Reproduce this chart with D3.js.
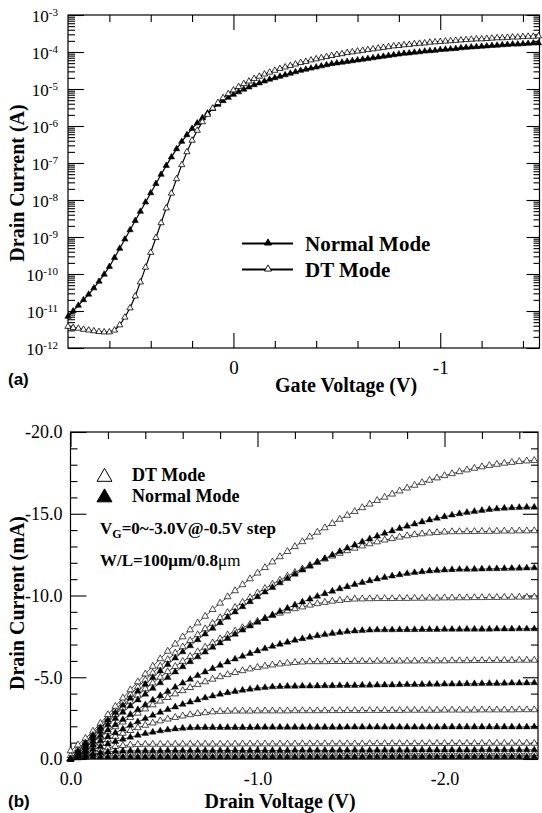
<!DOCTYPE html>
<html><head><meta charset="utf-8">
<script src="https://cdn.jsdelivr.net/npm/d3@7"></script>
<style>
body{margin:0;background:#fff}
svg{display:block}
text{font-family:"Liberation Serif","Times New Roman",serif;fill:#000}
</style>
</head><body>
<svg id="chart" width="542" height="813"></svg>
<script>
// ---------------- (a) transfer curves ----------------
const gateVoltage = [0.8,0.775,0.75,0.725,0.7,0.675,0.65,0.625,0.6,0.575,0.55,0.525,0.5,0.475,0.45,0.425,0.4,0.375,0.35,0.325,0.3,0.275,0.25,0.225,0.2,0.175,0.15,0.125,0.1,0.075,0.05,0.025,0,-0.025,-0.05,-0.075,-0.1,-0.125,-0.15,-0.175,-0.2,-0.225,-0.25,-0.275,-0.3,-0.325,-0.35,-0.375,-0.4,-0.425,-0.45,-0.475,-0.5,-0.525,-0.55,-0.575,-0.6,-0.625,-0.65,-0.675,-0.7,-0.725,-0.75,-0.775,-0.8,-0.825,-0.85,-0.875,-0.9,-0.925,-0.95,-0.975,-1,-1.025,-1.05,-1.075,-1.1,-1.125,-1.15,-1.175,-1.2,-1.225,-1.25,-1.275,-1.3,-1.325,-1.35,-1.375,-1.4,-1.425,-1.45,-1.475];
// log10 of drain current (A)
const normalLogId = [-11.15,-11.00,-10.85,-10.70,-10.55,-10.38,-10.20,-10.01,-9.80,-9.56,-9.31,-9.06,-8.81,-8.56,-8.31,-8.06,-7.81,-7.56,-7.31,-7.07,-6.84,-6.62,-6.42,-6.24,-6.07,-5.92,-5.78,-5.65,-5.53,-5.42,-5.32,-5.23,-5.15,-5.08,-5.01,-4.95,-4.89,-4.84,-4.79,-4.74,-4.70,-4.66,-4.62,-4.58,-4.54,-4.50,-4.47,-4.44,-4.41,-4.38,-4.35,-4.32,-4.30,-4.28,-4.26,-4.24,-4.22,-4.20,-4.18,-4.16,-4.14,-4.12,-4.10,-4.08,-4.06,-4.04,-4.03,-4.01,-4.00,-3.98,-3.97,-3.96,-3.94,-3.93,-3.92,-3.91,-3.89,-3.88,-3.87,-3.86,-3.85,-3.84,-3.83,-3.82,-3.81,-3.80,-3.79,-3.79,-3.78,-3.77,-3.76,-3.76];
const dtLogId = [-11.42,-11.45,-11.47,-11.50,-11.52,-11.54,-11.56,-11.57,-11.57,-11.52,-11.38,-11.17,-10.92,-10.60,-10.22,-9.82,-9.42,-9.02,-8.62,-8.22,-7.82,-7.43,-7.05,-6.70,-6.39,-6.12,-5.89,-5.69,-5.52,-5.37,-5.24,-5.13,-5.03,-4.94,-4.86,-4.79,-4.72,-4.66,-4.60,-4.55,-4.50,-4.45,-4.41,-4.37,-4.33,-4.29,-4.26,-4.22,-4.19,-4.16,-4.13,-4.10,-4.07,-4.05,-4.02,-4.00,-3.98,-3.96,-3.94,-3.92,-3.90,-3.88,-3.86,-3.84,-3.83,-3.81,-3.80,-3.78,-3.77,-3.76,-3.74,-3.73,-3.72,-3.71,-3.70,-3.69,-3.68,-3.67,-3.66,-3.65,-3.65,-3.64,-3.63,-3.62,-3.62,-3.61,-3.60,-3.60,-3.59,-3.58,-3.58,-3.57];
const aXMajorTicks = [0, -1];
const aXMinorTicks = [0.6, 0.4, 0.2, -0.2, -0.4, -0.6, -0.8, -1.2, -1.4];
const aYDecades = [-12,-11,-10,-9,-8,-7,-6,-5,-4,-3];
const aLegend = ["Normal Mode", "DT Mode"];

// ---------------- (b) output curves ----------------
const drainVoltage = [0,-0.04,-0.08,-0.12,-0.16,-0.2,-0.24,-0.28,-0.32,-0.36,-0.4,-0.44,-0.48,-0.52,-0.56,-0.6,-0.64,-0.68,-0.72,-0.76,-0.8,-0.84,-0.88,-0.92,-0.96,-1,-1.04,-1.08,-1.12,-1.16,-1.2,-1.24,-1.28,-1.32,-1.36,-1.4,-1.44,-1.48,-1.52,-1.56,-1.6,-1.64,-1.68,-1.72,-1.76,-1.8,-1.84,-1.88,-1.92,-1.96,-2,-2.04,-2.08,-2.12,-2.16,-2.2,-2.24,-2.28,-2.32,-2.36,-2.4,-2.44,-2.48];
// drain current magnitude (mA); plotted as negative values
const dtVg30 = [0.50,0.86,1.26,1.70,2.18,2.71,3.22,3.73,4.23,4.72,5.20,5.67,6.13,6.59,7.03,7.47,7.90,8.32,8.73,9.14,9.53,9.92,10.29,10.66,11.02,11.37,11.71,12.05,12.37,12.69,12.99,13.29,13.58,13.87,14.14,14.40,14.66,14.90,15.14,15.37,15.59,15.81,16.01,16.20,16.39,16.57,16.74,16.90,17.05,17.19,17.33,17.45,17.57,17.68,17.78,17.87,17.95,18.02,18.09,18.14,18.19,18.23,18.26];
const nmVg30 = [0,0.49,0.98,1.45,1.92,2.38,2.84,3.28,3.72,4.15,4.57,4.98,5.38,5.78,6.17,6.55,6.92,7.29,7.64,7.99,8.33,8.67,8.99,9.31,9.62,9.92,10.21,10.49,10.77,11.04,11.30,11.55,11.79,12.03,12.26,12.48,12.69,12.90,13.09,13.28,13.46,13.63,13.80,13.95,14.10,14.24,14.37,14.50,14.62,14.72,14.82,14.92,15.00,15.08,15.14,15.20,15.26,15.30,15.34,15.36,15.38,15.40,15.40];
const dtVg25 = [0.20,0.63,1.05,1.56,2.06,2.55,3.02,3.49,3.95,4.40,4.83,5.26,5.68,6.08,6.48,6.86,7.24,7.60,7.96,8.30,8.64,8.96,9.27,9.58,9.87,10.15,10.43,10.69,10.94,11.18,11.41,11.63,11.84,12.04,12.23,12.41,12.58,12.74,12.89,13.03,13.16,13.28,13.39,13.48,13.57,13.65,13.72,13.77,13.82,13.85,13.88,13.90,13.90,13.91,13.91,13.92,13.92,13.93,13.94,13.94,13.95,13.95,13.96];
const nmVg25 = [0,0.43,0.86,1.28,1.69,2.09,2.48,2.86,3.24,3.61,3.96,4.32,4.66,4.99,5.32,5.64,5.95,6.25,6.54,6.83,7.10,7.37,7.63,7.88,8.13,8.36,8.59,8.81,9.02,9.22,9.42,9.60,9.78,9.95,10.11,10.26,10.41,10.54,10.67,10.79,10.90,11.01,11.10,11.19,11.27,11.34,11.40,11.45,11.50,11.53,11.56,11.58,11.60,11.60,11.61,11.62,11.63,11.64,11.65,11.66,11.67,11.68,11.69];
const dtVg20 = [0,0.48,0.96,1.42,1.86,2.30,2.72,3.13,3.53,3.91,4.29,4.65,5.00,5.34,5.66,5.97,6.27,6.56,6.84,7.10,7.35,7.59,7.82,8.03,8.23,8.42,8.60,8.77,8.92,9.06,9.19,9.30,9.41,9.50,9.58,9.65,9.70,9.75,9.78,9.79,9.80,9.81,9.81,9.81,9.82,9.82,9.83,9.83,9.84,9.84,9.85,9.85,9.86,9.86,9.87,9.87,9.88,9.88,9.89,9.89,9.90,9.90,9.91];
const nmVg20 = [0,0.37,0.73,1.09,1.43,1.77,2.10,2.41,2.72,3.02,3.31,3.60,3.87,4.13,4.39,4.64,4.87,5.10,5.32,5.53,5.73,5.93,6.11,6.28,6.45,6.61,6.75,6.89,7.02,7.14,7.26,7.36,7.45,7.54,7.61,7.68,7.74,7.79,7.83,7.86,7.88,7.90,7.90,7.90,7.91,7.91,7.91,7.92,7.92,7.92,7.93,7.93,7.93,7.94,7.94,7.94,7.94,7.95,7.95,7.95,7.96,7.96,7.96];
const dtVg15 = [0,0.36,0.70,1.03,1.36,1.67,1.97,2.26,2.54,2.80,3.06,3.31,3.54,3.76,3.98,4.18,4.37,4.55,4.72,4.88,5.03,5.16,5.29,5.40,5.51,5.60,5.68,5.75,5.81,5.86,5.90,5.93,5.95,5.95,5.95,5.96,5.96,5.96,5.97,5.97,5.97,5.98,5.98,5.98,5.99,5.99,5.99,6.00,6.00,6.00,6.00,6.01,6.01,6.01,6.02,6.02,6.02,6.03,6.03,6.03,6.04,6.04,6.04];
const nmVg15 = [0,0.29,0.57,0.85,1.11,1.36,1.60,1.83,2.06,2.27,2.47,2.67,2.85,3.02,3.18,3.34,3.48,3.61,3.74,3.85,3.96,4.05,4.13,4.21,4.27,4.33,4.37,4.41,4.43,4.45,4.45,4.46,4.46,4.47,4.48,4.48,4.49,4.50,4.50,4.51,4.51,4.52,4.53,4.53,4.54,4.55,4.55,4.56,4.57,4.57,4.58,4.58,4.59,4.60,4.60,4.61,4.62,4.62,4.63,4.64,4.64,4.65,4.66];
const dtVg10 = [0,0.26,0.51,0.75,0.97,1.18,1.38,1.57,1.74,1.91,2.06,2.20,2.33,2.44,2.54,2.63,2.71,2.78,2.83,2.88,2.91,2.92,2.93,2.93,2.93,2.94,2.94,2.94,2.94,2.94,2.95,2.95,2.95,2.95,2.95,2.96,2.96,2.96,2.96,2.96,2.97,2.97,2.97,2.97,2.97,2.98,2.98,2.98,2.98,2.98,2.99,2.99,2.99,2.99,2.99,3.00,3.00,3.00,3.00,3.00,3.01,3.01,3.01];
const nmVg10 = [0,0.21,0.41,0.59,0.76,0.92,1.07,1.21,1.33,1.45,1.55,1.64,1.72,1.78,1.84,1.88,1.91,1.92,1.93,1.93,1.93,1.93,1.93,1.93,1.93,1.94,1.94,1.94,1.94,1.94,1.94,1.94,1.94,1.94,1.94,1.94,1.94,1.95,1.95,1.95,1.95,1.95,1.95,1.95,1.95,1.95,1.95,1.95,1.95,1.95,1.96,1.96,1.96,1.96,1.96,1.96,1.96,1.96,1.96,1.96,1.96,1.96,1.97];
const dtVg05 = [0,0.17,0.32,0.46,0.58,0.68,0.76,0.82,0.86,0.89,0.90,0.90,0.90,0.90,0.90,0.91,0.91,0.91,0.91,0.91,0.91,0.91,0.91,0.92,0.92,0.92,0.92,0.92,0.92,0.92,0.92,0.93,0.93,0.93,0.93,0.93,0.93,0.93,0.93,0.93,0.94,0.94,0.94,0.94,0.94,0.94,0.94,0.94,0.95,0.95,0.95,0.95,0.95,0.95,0.95,0.95,0.96,0.96,0.96,0.96,0.96,0.96,0.96];
const nmVg05 = [0,0.12,0.22,0.31,0.38,0.43,0.47,0.49,0.50,0.50,0.50,0.50,0.50,0.51,0.51,0.51,0.51,0.51,0.51,0.51,0.51,0.52,0.52,0.52,0.52,0.52,0.52,0.52,0.52,0.52,0.53,0.53,0.53,0.53,0.53,0.53,0.53,0.53,0.54,0.54,0.54,0.54,0.54,0.54,0.54,0.54,0.55,0.55,0.55,0.55,0.55,0.55,0.55,0.55,0.55,0.56,0.56,0.56,0.56,0.56,0.56,0.56,0.56];
const dtVg00 = [0,0.12,0.20,0.26,0.30,0.31,0.31,0.31,0.31,0.31,0.31,0.31,0.31,0.31,0.31,0.31,0.31,0.31,0.31,0.31,0.31,0.31,0.31,0.31,0.31,0.31,0.31,0.31,0.31,0.31,0.31,0.31,0.31,0.31,0.31,0.31,0.32,0.32,0.32,0.32,0.32,0.32,0.32,0.32,0.32,0.32,0.32,0.32,0.32,0.32,0.32,0.32,0.32,0.32,0.32,0.32,0.32,0.32,0.32,0.32,0.32,0.32,0.32];
const nmVg00 = [0,0.06,0.10,0.12,0.12,0.12,0.12,0.12,0.12,0.12,0.12,0.12,0.12,0.12,0.12,0.12,0.12,0.12,0.12,0.12,0.12,0.12,0.12,0.12,0.12,0.12,0.12,0.12,0.12,0.12,0.12,0.12,0.12,0.12,0.12,0.12,0.12,0.12,0.12,0.12,0.13,0.13,0.13,0.13,0.13,0.13,0.13,0.13,0.13,0.13,0.13,0.13,0.13,0.13,0.13,0.13,0.13,0.13,0.13,0.13,0.13,0.13,0.13];
const dtCurves = [dtVg00, dtVg05, dtVg10, dtVg15, dtVg20, dtVg25, dtVg30];
const normalCurves = [nmVg00, nmVg05, nmVg10, nmVg15, nmVg20, nmVg25, nmVg30];
const bXMajorTicks = [0, -1, -2];
const bXMinorTicks = [-0.2,-0.4,-0.6,-0.8,-1.2,-1.4,-1.6,-1.8,-2.2,-2.4];
const bYMajorTicks = [0, -5, -10, -15, -20];
const bYMinorTicks = [-1,-2,-3,-4,-6,-7,-8,-9,-11,-12,-13,-14,-16,-17,-18,-19];
const bLegend = ["DT Mode", "Normal Mode"];

// ================= drawing =================
const svg = d3.select("#chart");
const tri = d3.symbol().type(d3.symbolTriangle);

function styleAxis(g, fontSize) {
  g.select(".domain").remove();
  g.selectAll(".tick line").attr("stroke", "#000").attr("stroke-width", 1.1);
  g.attr("font-family", null).attr("font-size", null);
  g.selectAll("text").style("font-size", fontSize + "px");
  return g;
}
function frame(x0, y0, x1, y1) {
  svg.append("rect").attr("x", x0).attr("y", y0).attr("width", x1 - x0).attr("height", y1 - y0)
    .attr("fill", "none").attr("stroke", "#000").attr("stroke-width", 1.2);
}

// ----- panel (a) -----
const aL = 68, aR = 539.5, aT = 15, aB = 348;
const xA = d3.scaleLinear().domain([0.8, -1.48]).range([aL, aR]);
const yA = d3.scaleLog().domain([1e-12, 1e-3]).range([aB, aT]);
const aMinorY = [];
aYDecades.slice(0, -1).forEach(e => { for (let m = 2; m <= 9; m++) aMinorY.push(m * Math.pow(10, e)); });
const aMajorY = aYDecades.map(e => Math.pow(10, e));

styleAxis(svg.append("g").attr("transform", `translate(0,${aB})`)
  .call(d3.axisBottom(xA).tickValues(aXMajorTicks).tickSizeInner(-15).tickSizeOuter(0).tickPadding(13).tickFormat(d => String(d))), 19);
styleAxis(svg.append("g").attr("transform", `translate(0,${aB})`)
  .call(d3.axisBottom(xA).tickValues(aXMinorTicks).tickSizeInner(-7).tickSizeOuter(0).tickFormat("")), 10);
styleAxis(svg.append("g").attr("transform", `translate(0,${aT})`)
  .call(d3.axisTop(xA).tickValues(aXMajorTicks).tickSizeInner(-15).tickSizeOuter(0).tickFormat("")), 10);
styleAxis(svg.append("g").attr("transform", `translate(0,${aT})`)
  .call(d3.axisTop(xA).tickValues(aXMinorTicks).tickSizeInner(-7).tickSizeOuter(0).tickFormat("")), 10);
const aLeftMajor = styleAxis(svg.append("g").attr("transform", `translate(${aL},0)`)
  .call(d3.axisLeft(yA).tickValues(aMajorY).tickSizeInner(-16).tickSizeOuter(0).tickPadding(10).tickFormat(d => "")), 17);
aLeftMajor.selectAll(".tick text").each(function (d) {
  const t = d3.select(this).attr("dy", "0.36em");
  t.append("tspan").text("10");
  t.append("tspan").attr("dy", "-0.55em").style("font-size", "11px").text(String(Math.round(Math.log10(d))));
});
styleAxis(svg.append("g").attr("transform", `translate(${aL},0)`)
  .call(d3.axisLeft(yA).tickValues(aMinorY).tickSizeInner(-7).tickSizeOuter(0).tickFormat("")), 10);
styleAxis(svg.append("g").attr("transform", `translate(${aR},0)`)
  .call(d3.axisRight(yA).tickValues(aMajorY).tickSizeInner(-13).tickSizeOuter(0).tickFormat("")), 10);
styleAxis(svg.append("g").attr("transform", `translate(${aR},0)`)
  .call(d3.axisRight(yA).tickValues(aMinorY).tickSizeInner(-6).tickSizeOuter(0).tickFormat("")), 10);
frame(aL, aT, aR, aB);

const lineA = d3.line().x(d => xA(d.v)).y(d => yA(Math.pow(10, d.l)));
const normalA = gateVoltage.map((v, i) => ({ v, l: normalLogId[i] }));
const dtA = gateVoltage.map((v, i) => ({ v, l: dtLogId[i] }));
[[normalA, true], [dtA, false]].forEach(([data, filled]) => {
  svg.append("path").datum(data).attr("d", lineA).attr("fill", "none").attr("stroke", "#000").attr("stroke-width", 1.2);
  svg.append("g").selectAll("path").data(data).join("path")
    .attr("d", tri.size(17)())
    .attr("transform", d => `translate(${xA(d.v)},${yA(Math.pow(10, d.l))})`)
    .attr("fill", filled ? "#000" : "#fff").attr("stroke", "#000").attr("stroke-width", filled ? 0.6 : 0.8);
});

// legend (a)
aLegend.forEach((name, i) => {
  const y = 243.5 + i * 26;
  svg.append("line").attr("x1", 242).attr("x2", 293).attr("y1", y).attr("y2", y).attr("stroke", "#000").attr("stroke-width", 2);
  svg.append("path").attr("d", tri.size(22)()).attr("transform", `translate(268,${y - 0.5})`)
    .attr("fill", i === 0 ? "#000" : "#fff").attr("stroke", "#000").attr("stroke-width", 0.9);
  svg.append("text").attr("x", 305).attr("y", y + 7).style("font-size", "21px").style("font-weight", "bold").text(name);
});

svg.append("text").attr("transform", "translate(24,183) rotate(-90)").attr("text-anchor", "middle")
  .style("font-size", "20px").style("font-weight", "bold").text("Drain Current (A)");
svg.append("text").attr("x", 346).attr("y", 392).attr("text-anchor", "middle")
  .style("font-size", "20px").style("font-weight", "bold").text("Gate Voltage (V)");
svg.append("text").attr("x", 8).attr("y", 385).style("font-family", "'Liberation Sans',Arial,sans-serif")
  .style("font-size", "17px").style("font-weight", "bold").text("(a)");

// ----- panel (b) -----
const bL = 70.5, bR = 538, bT = 432, bB = 759;
const xB = d3.scaleLinear().domain([0, -2.5]).range([bL, bR]);
const yB = d3.scaleLinear().domain([0, -20]).range([bB, bT]);
const fmt1 = d => d.toFixed(1);

styleAxis(svg.append("g").attr("transform", `translate(0,${bB})`)
  .call(d3.axisBottom(xB).tickValues(bXMajorTicks).tickSizeInner(-15).tickSizeOuter(0).tickPadding(13).tickFormat(fmt1)), 18);
styleAxis(svg.append("g").attr("transform", `translate(0,${bB})`)
  .call(d3.axisBottom(xB).tickValues(bXMinorTicks).tickSizeInner(-7).tickSizeOuter(0).tickFormat("")), 10);
styleAxis(svg.append("g").attr("transform", `translate(0,${bT})`)
  .call(d3.axisTop(xB).tickValues(bXMajorTicks).tickSizeInner(-15).tickSizeOuter(0).tickFormat("")), 10);
styleAxis(svg.append("g").attr("transform", `translate(0,${bT})`)
  .call(d3.axisTop(xB).tickValues(bXMinorTicks).tickSizeInner(-7).tickSizeOuter(0).tickFormat("")), 10);
styleAxis(svg.append("g").attr("transform", `translate(${bL},0)`)
  .call(d3.axisLeft(yB).tickValues(bYMajorTicks).tickSizeInner(-16).tickSizeOuter(0).tickPadding(8).tickFormat(fmt1)), 18);
styleAxis(svg.append("g").attr("transform", `translate(${bL},0)`)
  .call(d3.axisLeft(yB).tickValues(bYMinorTicks).tickSizeInner(-7).tickSizeOuter(0).tickFormat("")), 10);
styleAxis(svg.append("g").attr("transform", `translate(${bR},0)`)
  .call(d3.axisRight(yB).tickValues(bYMajorTicks).tickSizeInner(-15).tickSizeOuter(0).tickFormat("")), 10);
styleAxis(svg.append("g").attr("transform", `translate(${bR},0)`)
  .call(d3.axisRight(yB).tickValues(bYMinorTicks).tickSizeInner(-7).tickSizeOuter(0).tickFormat("")), 10);
frame(bL, bT, bR, bB);

const lineB = d3.line().x(d => xB(d.v)).y(d => yB(-d.i));
function drawCurve(values, filled) {
  const data = drainVoltage.map((v, k) => ({ v, i: values[k] }));
  svg.append("path").datum(data).attr("d", lineB).attr("fill", "none").attr("stroke", "#333").attr("stroke-width", 0.9);
  svg.append("g").selectAll("path").data(data).join("path")
    .attr("d", tri.size(20)())
    .attr("transform", d => `translate(${xB(d.v)},${yB(-d.i)})`)
    .attr("fill", filled ? "#000" : "#fff").attr("stroke", "#000").attr("stroke-width", filled ? 0.4 : 0.7);
}
dtCurves.forEach(c => drawCurve(c, false));
normalCurves.forEach(c => drawCurve(c, true));

// legend (b)
bLegend.forEach((name, i) => {
  const y = 477 + i * 20.5;
  svg.append("path").attr("d", tri.size(97)()).attr("transform", `translate(104.5,${y})`)
    .attr("fill", i === 0 ? "#fff" : "#000").attr("stroke", "#000").attr("stroke-width", 1);
  svg.append("text").attr("x", 132).attr("y", y + 4).style("font-size", "18px").style("font-weight", "bold").text(name);
});
const vgText = svg.append("text").attr("x", 100).attr("y", 534).style("font-size", "17px").style("font-weight", "bold");
vgText.append("tspan").text("V");
vgText.append("tspan").attr("dy", 4).style("font-size", "12px").text("G");
vgText.append("tspan").attr("dy", -4).text("=0~-3.0V@-0.5V step");
const wlText = svg.append("text").attr("x", 100).attr("y", 566).style("font-size", "17px").style("font-weight", "bold");
wlText.append("tspan").text("W/L=100\u03BCm/0.8");
wlText.append("tspan").style("font-weight", "normal").text("\u03BCm");

svg.append("text").attr("transform", "translate(24,603) rotate(-90)").attr("text-anchor", "middle")
  .style("font-size", "20px").style("font-weight", "bold").text("Drain Current (mA)");
svg.append("text").attr("x", 280).attr("y", 808).attr("text-anchor", "middle")
  .style("font-size", "20px").style("font-weight", "bold").text("Drain Voltage (V)");
svg.append("text").attr("x", 8).attr("y", 807).style("font-family", "'Liberation Sans',Arial,sans-serif")
  .style("font-size", "17px").style("font-weight", "bold").text("(b)");
</script>
</body></html>
